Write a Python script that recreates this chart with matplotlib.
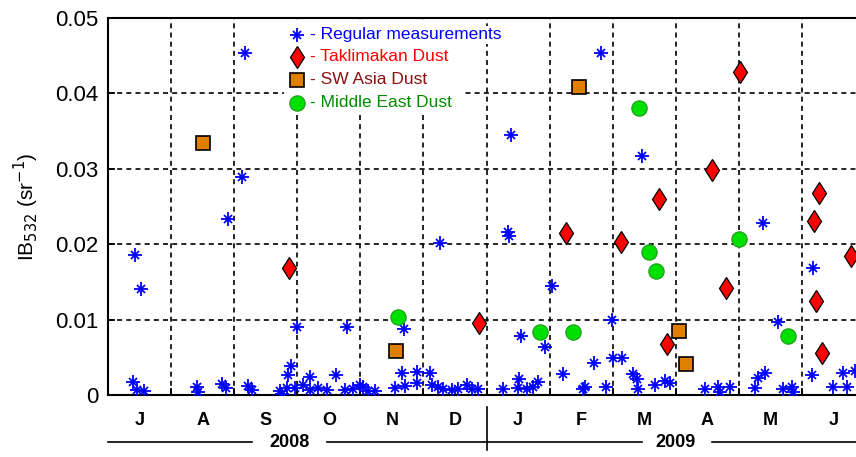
import numpy as np
import matplotlib
matplotlib.use("Agg")
import matplotlib.pyplot as plt
from matplotlib.patches import Rectangle

plt.rcParams['font.family'] = ['Liberation Sans', 'DejaVu Sans']

# x = months since 1 Jul 2008, y = IB532 (sr^-1)
regular_x = [0.43, 0.52, 1.90, 2.12, 2.17, 3.00, 3.79, 4.69, 5.26, 6.39, 6.34, 6.36,
             7.04, 6.55, 6.93, 7.21, 7.81, 8.46, 7.99, 7.70, 10.38, 10.62, 11.17,
             0.40, 0.46, 0.57, 1.41, 1.43, 1.81, 1.87,
             2.22, 2.28, 2.73, 2.76, 2.84, 2.85, 2.90, 2.96,
             3.09, 3.20, 3.20, 3.33, 3.47, 3.61, 3.76, 3.88, 3.99,
             4.04, 4.12, 4.23, 4.55, 4.66, 4.71, 4.90, 4.90,
             5.10, 5.14, 5.23, 5.31, 5.45, 5.55, 5.69, 5.77, 5.86,
             6.26, 6.51, 6.50, 6.64, 6.74, 6.82,
             7.53, 7.56, 7.89,
             8.00, 8.15, 8.32, 8.38, 8.40, 8.67, 8.83, 8.91,
             9.46, 9.67, 9.70, 9.86,
             10.26, 10.30, 10.41, 10.70, 10.84, 10.86,
             11.16, 11.49, 11.65, 11.71, 11.84]
regular_y = [0.0186, 0.0140, 0.0233, 0.0289, 0.0453, 0.0090, 0.0090, 0.0088, 0.0201, 0.0345, 0.0216, 0.0211,
             0.01445, 0.0078, 0.0064, 0.0028, 0.0453, 0.0317, 0.0099, 0.0042, 0.0228, 0.0097, 0.0169,
             0.0017, 0.0007, 0.0005, 0.0011, 0.0004, 0.0015, 0.0009,
             0.0012, 0.0007, 0.0005, 0.0001, 0.0009, 0.0027, 0.0038, 0.0009,
             0.0013, 0.0024, 0.0007, 0.0009, 0.0007, 0.0027, 0.0007, 0.0008, 0.0013,
             0.0011, 0.0005, 0.0005, 0.0009, 0.0029, 0.0012, 0.0030, 0.0016,
             0.0029, 0.0013, 0.0011, 0.0008, 0.0007, 0.0008, 0.0013, 0.0008, 0.0008,
             0.0008, 0.0021, 0.0009, 0.0008, 0.0011, 0.0017,
             0.0008, 0.0011, 0.0011,
             0.0049, 0.0049, 0.0028, 0.0021, 0.0008, 0.0013, 0.0019, 0.0016,
             0.0008, 0.0011, 0.0004, 0.0011,
             0.0009, 0.0023, 0.0029, 0.0008, 0.0011, 0.0004,
             0.0027, 0.0011, 0.0029, 0.0011, 0.0032]

takla_x = [2.87, 5.88, 7.26, 8.13, 8.73, 9.57, 10.02, 9.80, 8.86, 11.27, 11.19, 11.22, 11.31, 11.78]
takla_y = [0.0168, 0.0096, 0.0215, 0.0203, 0.0260, 0.0298, 0.0428, 0.0142, 0.0068, 0.0268, 0.0231, 0.0125, 0.0056, 0.0184]

swasia_x = [1.51, 4.56, 7.47, 9.05, 9.16]
swasia_y = [0.0334, 0.0058, 0.0408, 0.0085, 0.0041]

mideast_x = [4.60, 6.85, 7.37, 8.42, 8.58, 8.69, 10.00, 10.78]
mideast_y = [0.0103, 0.0083, 0.0083, 0.0380, 0.0189, 0.0165, 0.0207, 0.0078]

months = ['J', 'A', 'S', 'O', 'N', 'D', 'J', 'F', 'M', 'A', 'M', 'J']
years = ['2008', '2009']
ytick_vals = [0, 0.01, 0.02, 0.03, 0.04, 0.05]
ytick_labels = ['0', '0.01', '0.02', '0.03', '0.04', '0.05']

blue = '#0000FF'
orange = '#E08000'
green = '#00E000'

star_plus = dict(marker='+', ms=10, mew=1.3, color=blue)
star_x = dict(marker='x', ms=6, mew=1.3, color=blue)
diamond = dict(marker='d', ms=11.5, mfc='red', mec='black', mew=0.9)
square = dict(marker='s', ms=10, mfc=orange, mec='black', mew=1.2)
circle = dict(marker='o', ms=11, mfc=green, mec='#20A020', mew=0.9)

fig = plt.figure(figsize=(8.56, 4.57), dpi=100)
ax = fig.add_axes([108/856, 1 - 395/457, 748/856, 377/457])
ax.set_axisbelow(True)

# regular measurements: matlab style '*' = plus + cross
ax.plot(regular_x, regular_y, ls='none', zorder=4, **star_plus)
ax.plot(regular_x, regular_y, ls='none', zorder=4, **star_x)
ax.plot(takla_x, takla_y, ls='none', zorder=5, **diamond)
ax.plot(swasia_x, swasia_y, ls='none', zorder=5, **square)
ax.plot(mideast_x, mideast_y, ls='none', zorder=5, **circle)

ax.set_xlim(0, 748 / 63.09)
ax.set_ylim(0, 0.05)

# grid at month boundaries
ax.set_xticks(np.arange(1, 12), minor=True)
ax.set_xticks(np.arange(len(months)) + 0.5)
ax.set_xticklabels(months, fontsize=13, fontweight='bold')
ax.tick_params(axis='x', which='major', length=0, pad=12)
ax.tick_params(axis='x', which='minor', direction='in', length=5, width=1.3)
ax.grid(True, which='minor', axis='x', color='black', ls=(0, (3, 2.5)), lw=1.2)
ax.set_yticks(ytick_vals)
ax.set_yticklabels(ytick_labels, fontsize=16)
ax.tick_params(axis='y', direction='in', length=5, width=1.3, pad=7)
ax.grid(True, which='major', axis='y', color='black', ls=(0, (3, 2.5)), lw=1.2)

for s in ['left', 'bottom', 'top']:
    ax.spines[s].set_linewidth(1.5)
ax.spines['right'].set_visible(False)

ax.set_ylabel('IB$_{532}$ (sr$^{-1}$)', fontsize=15, labelpad=10)

# legend drawn by hand on a white patch
ax.add_patch(Rectangle((0.235, 0.745), 0.24, 0.245, transform=ax.transAxes,
                       facecolor='white', edgecolor='none', zorder=3))
leg_y = [0.955, 0.897, 0.836, 0.775]
leg_text = ['- Regular measurements', '- Taklimakan Dust', '- SW Asia Dust', '- Middle East Dust']
leg_col = [blue, 'red', '#8B1010', '#008C00']
mx = 0.2527
ax.plot([mx], [leg_y[0]], transform=ax.transAxes, zorder=6, **star_plus)
ax.plot([mx], [leg_y[0]], transform=ax.transAxes, zorder=6, **star_x)
ax.plot([mx], [leg_y[1]], transform=ax.transAxes, zorder=6, **diamond)
ax.plot([mx], [leg_y[2]], transform=ax.transAxes, zorder=6, **square)
ax.plot([mx], [leg_y[3]], transform=ax.transAxes, zorder=6, **circle)
for yy, t, c in zip(leg_y, leg_text, leg_col):
    ax.text(0.27, yy, t, transform=ax.transAxes, color=c, fontsize=12.5, va='center', ha='left',
            zorder=6, bbox=dict(facecolor='white', edgecolor='none', pad=1))

# year bars under the month labels
tr = ax.get_xaxis_transform()
ly = -0.125
ax.plot([0, 2.28], [ly, ly], transform=tr, color='black', lw=1.2, clip_on=False)
ax.plot([3.47, 6.0], [ly, ly], transform=tr, color='black', lw=1.2, clip_on=False)
ax.plot([6.0, 8.46], [ly, ly], transform=tr, color='black', lw=1.2, clip_on=False)
ax.plot([9.57, 11.86], [ly, ly], transform=tr, color='black', lw=1.2, clip_on=False)
ax.plot([6.0, 6.0], [-0.032, -0.146], transform=tr, color='black', lw=1.2, clip_on=False)
ax.text(2.88, ly, years[0], transform=tr, fontsize=13, fontweight='bold', ha='center', va='center')
ax.text(8.99, ly, years[1], transform=tr, fontsize=13, fontweight='bold', ha='center', va='center')

fig.savefig('out.png', dpi=100)
